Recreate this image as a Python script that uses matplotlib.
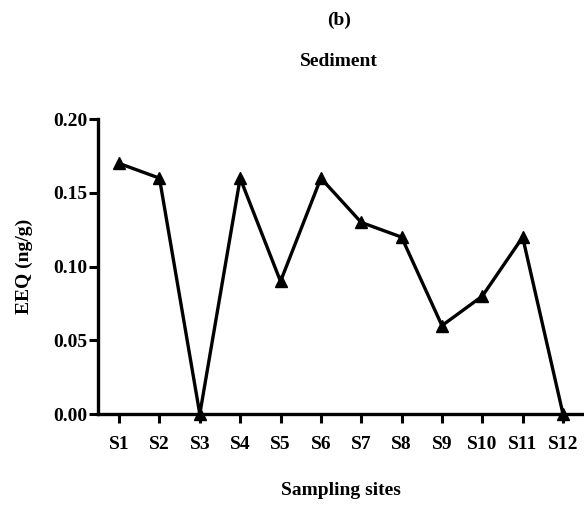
import numpy as np
import matplotlib.pyplot as plt

sites = ['S1', 'S2', 'S3', 'S4', 'S5', 'S6', 'S7', 'S8', 'S9', 'S10', 'S11', 'S12']
eeq = [0.17, 0.16, 0.00, 0.16, 0.09, 0.16, 0.13, 0.12, 0.06, 0.08, 0.12, 0.00]

plt.rcParams['font.family'] = ['Liberation Serif', 'DejaVu Serif']
plt.rcParams['font.weight'] = 'bold'

fig = plt.figure(figsize=(5.84, 5.05), dpi=100)
ax = fig.add_axes([0.168, 0.180, 0.832, 0.584])

x = np.arange(1, len(sites) + 1)
ax.plot(x, eeq, color='black', linewidth=2.4, marker='^', markersize=9, clip_on=False)

ax.set_xlim(0.48, 12.52)
ax.set_ylim(0, 0.20)
ax.set_xticks(x)
ax.set_xticklabels(sites, fontsize=14, fontweight='bold')
ax.set_yticks([0.00, 0.05, 0.10, 0.15, 0.20])
ax.set_yticklabels(['0.00', '0.05', '0.10', '0.15', '0.20'], fontsize=14, fontweight='bold')

for s in ['top', 'right']:
    ax.spines[s].set_visible(False)
for s in ['left', 'bottom']:
    ax.spines[s].set_linewidth(2.4)
ax.tick_params(width=2.2, length=6.5, direction='out')
ax.tick_params(axis='x', pad=9)
ax.tick_params(axis='y', pad=1)

ax.set_xlabel('Sampling sites', fontsize=14, fontweight='bold', labelpad=21)
ax.set_ylabel('EEQ (ng/g)', fontsize=14, fontweight='bold', labelpad=15)

fig.text(0.581, 0.960, '(b)', ha='center', va='center', fontsize=14, fontweight='bold')
fig.text(0.581, 0.879, 'Sediment', ha='center', va='center', fontsize=14, fontweight='bold')

fig.savefig('out.png', dpi=100)
